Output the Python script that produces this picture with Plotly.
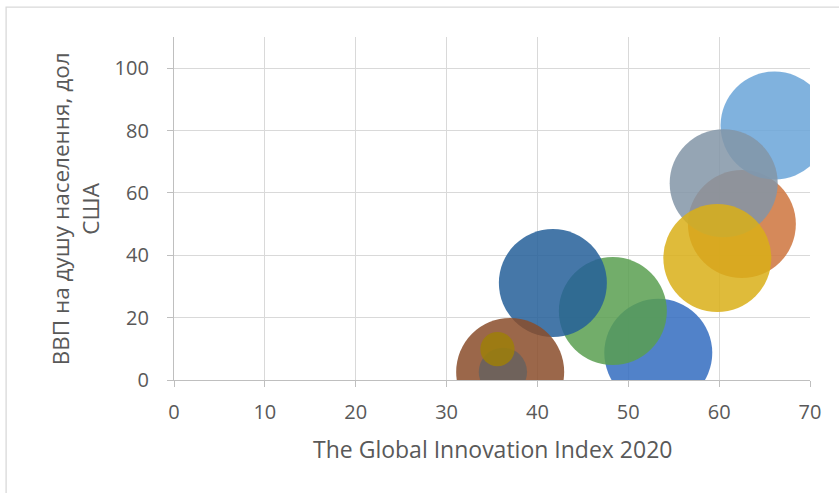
import plotly.graph_objects as go

# Data
gii_2020 = [53.3, 62.5, 66.1, 60.5, 59.8, 48.3, 41.7, 37.0, 36.2, 35.6]
gdp_per_capita = [8.7, 50.0, 81.6, 63.1, 39.1, 22.1, 31.1, 2.6, 2.6, 9.9]
bubble_size = [100, 100, 100, 100, 100, 100, 100, 100, 20, 10]
bubble_colors = ["#336cbf", "#ce743d", "#6aa4d8", "#8395a7", "#d9af17",
                 "#599f50", "#255f99", "#8a4c2a", "#67625e", "#9d7f09"]

x_ticks = [0, 10, 20, 30, 40, 50, 60, 70]
y_ticks = [0, 20, 40, 60, 80, 100]
x_title = "The Global Innovation Index 2020"
y_title = "ВВП на душу населення, дол<br>США"

max_diam = 108
fig = go.Figure(go.Scatter(
    x=gii_2020, y=gdp_per_capita, mode="markers",
    marker=dict(size=bubble_size, sizemode="area",
                sizeref=2.0 * max(bubble_size) / (max_diam ** 2),
                color=bubble_colors, opacity=0.85, line=dict(width=0)),
    cliponaxis=True, hoverinfo="x+y",
))

font_family = "'Open Sans', Lato, sans-serif"
fig.update_layout(
    width=839, height=493,
    margin=dict(l=174, r=29, t=37, b=113),
    paper_bgcolor="white", plot_bgcolor="white",
    showlegend=False,
    font=dict(family=font_family, color="#595959", size=20),
    xaxis=dict(range=[0, 70], tickvals=x_ticks, showgrid=True,
               gridcolor="#d9d9d9", gridwidth=1.3, zeroline=False,
               showline=True, linecolor="#bfbfbf", linewidth=1.3,
               ticks="outside", ticklen=6, tickcolor="#bfbfbf",
               ticklabelstandoff=8,
               tickfont=dict(size=20, color="#595959")),
    yaxis=dict(range=[0, 110], tickvals=y_ticks, showgrid=True,
               gridcolor="#d9d9d9", gridwidth=1.3, zeroline=False,
               showline=True, linecolor="#bfbfbf", linewidth=1.3,
               ticks="outside", ticklen=6, tickcolor="#bfbfbf",
               ticklabelstandoff=14,
               tickfont=dict(size=20, color="#595959")),
    annotations=[
        dict(text=x_title, xref="paper", yref="paper", x=0.5, y=-0.201,
             xanchor="center", yanchor="middle", showarrow=False,
             font=dict(size=23, color="#595959", family=font_family)),
        dict(text=y_title, xref="paper", yref="paper", x=-0.156, y=0.5,
             xanchor="center", yanchor="middle", showarrow=False, textangle=-90,
             font=dict(size=22.5, color="#595959", family=font_family)),
    ],
    shapes=[
        dict(type="rect", xref="paper", yref="paper",
             x0=-0.264, x1=2.0, y0=-2.0, y1=1.087,
             line=dict(color="#d9d9d9", width=1.3), fillcolor="rgba(0,0,0,0)",
             layer="below"),
    ],
)

fig.write_html("out.html", config={"displayModeBar": False},
               post_script="document.body.style.margin='0';document.body.style.overflow='hidden';")
